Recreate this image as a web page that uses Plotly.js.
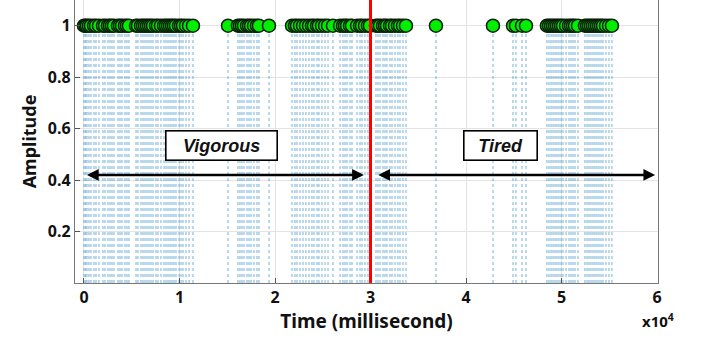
<!DOCTYPE html>
<html>
<head>
<meta charset="utf-8">
<script src="https://cdn.plot.ly/plotly-3.0.1.min.js"></script>
<style>
  html, body { margin: 0; padding: 0; background: #ffffff; }
  #chart { width: 712px; height: 341px; }
</style>
</head>
<body>
<div id="chart"></div>
<script>
// ---- Data (event times in milliseconds) ----
const eventTimesA = [0, 160, 310, 520, 730, 1050, 1260, 1570, 1990, 2200, 2510, 2720, 2930, 3140, 3560, 3770, 3980, 4290, 4500, 4710, 5450, 5650, 5970, 6180, 6390, 6600, 6810, 7020, 7230, 7540, 7750, 8060, 8380, 8590, 8800, 9010, 9220, 9420, 9630, 9950, 10160, 10370, 10680, 11000, 11410];
const eventTimesB = [15080, 16120, 16330, 16540, 16750, 17070, 17280, 17490, 17800, 18110, 18320, 19370];
const eventTimesC = [21780, 22090, 22300, 22620, 22930, 23240, 23560, 23870, 24080, 24400, 24600, 24920, 25240, 25550, 26070, 26810, 27120, 27330, 27540, 27850, 28060, 28590, 28900, 29110, 29420, 29730, 29940, 30570, 30780, 30990, 31310, 31520, 31720, 32040, 32250, 32560, 32870, 33090, 33400, 33710, 36850];
const eventTimesD = [42820, 44920, 45230, 45860, 46280];
const eventTimesE = [48470, 48690, 48900, 49110, 49320, 49520, 49730, 49940, 50150, 50470, 50780, 50990, 51200, 51410, 51720, 52450, 52670, 52870, 53080, 53290, 53500, 53710, 53920, 54130, 54340, 54650, 54970, 55280];
const spikeAmplitude = 1;

const splitTime = 30000;               // red boundary line
const vigorousSpan = [0, 29300];       // arrow extents (ms)
const tiredSpan = [30500, 59800];
const arrowLevel = 0.42;
const phaseLabels = ["Vigorous", "Tired"];
const phaseLabelPos = [[14450, 0.535], [43560, 0.535]];

const xTickVals = [0, 10000, 20000, 30000, 40000, 50000, 60000];
const xTickText = ["0", "1", "2", "3", "4", "5", "6"];
const yTickVals = [0.2, 0.4, 0.6, 0.8, 1];
const yTickText = ["0.2", "0.4", "0.6", "0.8", "1"];

// ---- Build traces ----
const eventTimes = [].concat(eventTimesA, eventTimesB, eventTimesC, eventTimesD, eventTimesE);
const eventAmps = eventTimes.map(() => spikeAmplitude);

const stemX = [], stemY = [];
eventTimes.forEach((t, i) => { stemX.push(t, t, null); stemY.push(0, eventAmps[i], null); });

const stems = {
  type: 'scatter', mode: 'lines', x: stemX, y: stemY,
  line: { color: 'rgba(0,114,189,0.42)', width: 1.3, dash: 'dot' },
  hoverinfo: 'skip', showlegend: false
};
const heads = {
  type: 'scatter', mode: 'markers', x: eventTimes, y: eventAmps,
  marker: { size: 13, color: '#00ee00', line: { color: '#0a1f0a', width: 1.5 } },
  showlegend: false
};

const boldFont = { family: 'Noto Sans, Liberation Sans, sans-serif', size: 16, color: '#111111', weight: 'bold' };

const annotations = [
  // double-headed arrows
  { x: vigorousSpan[1], y: arrowLevel, ax: vigorousSpan[0], ay: arrowLevel, xref: 'x', yref: 'y', axref: 'x', ayref: 'y',
    showarrow: true, arrowhead: 2, startarrowhead: 2, arrowside: 'end+start', arrowwidth: 2.6, arrowsize: 0.9, startarrowsize: 0.9, arrowcolor: '#000', text: ' ' },
  { x: tiredSpan[1], y: arrowLevel, ax: tiredSpan[0], ay: arrowLevel, xref: 'x', yref: 'y', axref: 'x', ayref: 'y',
    showarrow: true, arrowhead: 2, startarrowhead: 2, arrowside: 'end+start', arrowwidth: 2.6, arrowsize: 0.9, startarrowsize: 0.9, arrowcolor: '#000', text: ' ' },
  // phase labels
  { x: phaseLabelPos[0][0], y: phaseLabelPos[0][1], xref: 'x', yref: 'y', text: '<b><i>' + phaseLabels[0] + '</i></b>', showarrow: false,
    font: { family: 'Liberation Sans, Arial, sans-serif', size: 18, color: '#111' },
    bgcolor: '#ffffff', bordercolor: '#000', borderwidth: 1.6, borderpad: 2, width: 106, height: 24 },
  { x: phaseLabelPos[1][0], y: phaseLabelPos[1][1], xref: 'x', yref: 'y', text: '<b><i>' + phaseLabels[1] + '</i></b>', showarrow: false,
    font: { family: 'Liberation Sans, Arial, sans-serif', size: 18, color: '#111' },
    bgcolor: '#ffffff', bordercolor: '#000', borderwidth: 1.6, borderpad: 2, width: 68, height: 24 },
  // exponent label
  { xref: 'paper', yref: 'paper', x: 1.0, y: -0.088, xanchor: 'center', yanchor: 'top', showarrow: false,
    text: 'x10<sup>4</sup>', font: { family: 'Noto Sans, sans-serif', size: 15, color: '#111', weight: 'bold' } }
];

const layout = {
  width: 712, height: 341,
  margin: { l: 75, r: 54, t: 0, b: 58 },
  paper_bgcolor: '#ffffff', plot_bgcolor: '#ffffff',
  showlegend: false,
  xaxis: {
    range: [-940, 60100], tickvals: xTickVals, ticktext: xTickText,
    ticks: 'inside', ticklen: 5, tickcolor: '#555', tickwidth: 1,
    showline: true, mirror: true, linecolor: '#777', linewidth: 1.2,
    showgrid: true, gridcolor: '#e3e3e3', gridwidth: 1, zeroline: false,
    tickfont: boldFont,
    title: { text: 'Time (millisecond)', font: { family: 'Noto Sans, sans-serif', size: 19, color: '#111', weight: 'bold' }, standoff: 2 }
  },
  yaxis: {
    range: [0, 1.1], tickvals: yTickVals, ticktext: yTickText,
    ticks: 'inside', ticklen: 5, tickcolor: '#555', tickwidth: 1,
    showline: true, mirror: true, linecolor: '#777', linewidth: 1.2,
    showgrid: true, gridcolor: '#e3e3e3', gridwidth: 1, zeroline: false,
    tickfont: boldFont,
    title: { text: 'Amplitude', font: { family: 'Noto Sans, sans-serif', size: 18, color: '#111', weight: 'bold' }, standoff: 6 }
  },
  shapes: [
    { type: 'line', xref: 'x', yref: 'paper', x0: splitTime, x1: splitTime, y0: 0, y1: 1, line: { color: '#ff0000', width: 3 } }
  ],
  annotations: annotations
};

Plotly.newPlot('chart', [stems, heads], layout, { displayModeBar: false, staticPlot: true });
</script>
</body>
</html>
